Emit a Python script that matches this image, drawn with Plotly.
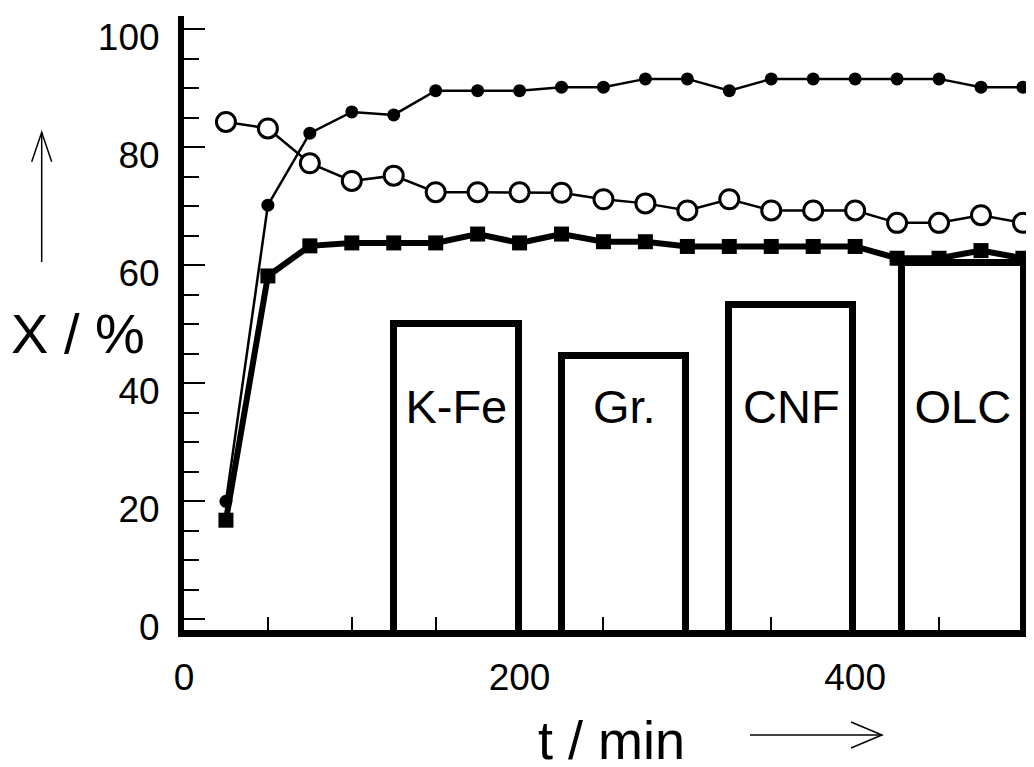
import plotly.graph_objects as go

# ---- data ----
t_min = [25, 50, 75, 100, 125, 150, 175, 200, 225, 250, 275, 300, 325, 350, 375, 400, 425, 450, 475, 500]
conv_filled = [20.0, 70.2, 82.4, 86.0, 85.5, 89.6, 89.6, 89.6, 90.2, 90.2, 91.6, 91.6, 89.6, 91.6, 91.6, 91.6, 91.6, 91.6, 90.2, 90.2]
conv_open = [84.3, 83.2, 77.3, 74.3, 75.2, 72.4, 72.4, 72.4, 72.3, 71.2, 70.5, 69.3, 71.2, 69.3, 69.3, 69.3, 67.2, 67.2, 68.5, 67.2]
conv_square = [16.8, 58.2, 63.3, 63.8, 63.8, 63.8, 65.3, 63.8, 65.3, 64.0, 64.0, 63.2, 63.2, 63.2, 63.2, 63.2, 61.2, 61.2, 62.5, 61.2]

bar_labels = ["K-Fe", "Gr.", "CNF", "OLC"]
bar_centers = [162.3, 262.4, 362.0, 464.2]
bar_widths = [74.2, 73.8, 73.9, 72.7]
bar_tops = [50.1, 44.7, 53.2, 60.4]
bar_label_y = [35.2, 35.2, 35.2, 35.2]

x_tick_vals = [0, 200, 400]
y_tick_vals = [0, 20, 40, 60, 80, 100]

FONT = "Liberation Sans, Arial, sans-serif"

# ---- figure geometry (page body has an 8px margin) ----
OFF = 8
W, H = 1034 - OFF, 767 - OFF
ML, MR, MT, MB = 184 - OFF, 0, 16 - OFF, 137
x_range = [0, 506.6]
y_range = [-1.81, 102.26]
bar_base = -6.0

fig = go.Figure()

fig.add_trace(go.Bar(
    x=bar_centers,
    y=[t - bar_base for t in bar_tops],
    base=bar_base,
    width=bar_widths,
    marker=dict(color="white", line=dict(color="black", width=7)),
    showlegend=False, hoverinfo="skip",
))

fig.add_trace(go.Scatter(
    x=bar_centers, y=bar_label_y, text=bar_labels, mode="text",
    textfont=dict(family=FONT, size=47, color="black"),
    textposition="middle center", showlegend=False, hoverinfo="skip",
))

fig.add_trace(go.Scatter(
    x=t_min, y=conv_square, mode="lines+markers",
    line=dict(color="black", width=6),
    marker=dict(symbol="square", size=15, color="black"),
    showlegend=False,
))

fig.add_trace(go.Scatter(
    x=t_min, y=conv_open, mode="lines+markers",
    line=dict(color="black", width=2.5),
    marker=dict(symbol="circle", size=19, color="white", line=dict(color="black", width=3)),
    showlegend=False,
))

fig.add_trace(go.Scatter(
    x=t_min, y=conv_filled, mode="lines+markers",
    line=dict(color="black", width=2.5),
    marker=dict(symbol="circle", size=13, color="black"),
    showlegend=False,
))

pw = W - ML - MR
ph = H - MT - MB


def px(xp):
    return (xp - OFF - ML) / pw


def py(yp):
    return 1 - (yp - OFF - MT) / ph


shapes = []
# vertical arrow at the y title
shapes.append(dict(type="line", xref="paper", yref="paper", x0=px(41.7), x1=px(41.7), y0=py(262), y1=py(132.5),
                   line=dict(color="black", width=1.5)))
shapes.append(dict(type="path", xref="paper", yref="paper",
                   path=f"M {px(31.7)},{py(161.7)} L {px(41.7)},{py(132.3)} L {px(51.7)},{py(161.7)}",
                   line=dict(color="black", width=1.5)))
# horizontal arrow at the x title
shapes.append(dict(type="line", xref="paper", yref="paper", x0=px(750), x1=px(881.5), y0=py(735), y1=py(735),
                   line=dict(color="black", width=1.5)))
shapes.append(dict(type="path", xref="paper", yref="paper",
                   path=f"M {px(851)},{py(722)} L {px(882)},{py(735)} L {px(851)},{py(748)}",
                   line=dict(color="black", width=1.5)))

annotations = [
    dict(text="X / %", xref="paper", yref="paper", x=px(78), y=py(333), showarrow=False,
         font=dict(family=FONT, size=56, color="black"), xanchor="center", yanchor="middle"),
    dict(text="t / min", xref="paper", yref="paper", x=px(611), y=py(740), showarrow=False,
         font=dict(family=FONT, size=54, color="black"), xanchor="center", yanchor="middle"),
]

fig.update_layout(
    width=W, height=H,
    margin=dict(l=ML, r=MR, t=MT, b=MB, pad=0, autoexpand=False),
    paper_bgcolor="white", plot_bgcolor="white",
    showlegend=False,
    bargap=0,
    shapes=shapes,
    annotations=annotations,
    font=dict(family=FONT, color="black"),
)

fig.update_xaxes(
    range=x_range, showgrid=False, zeroline=False, automargin=False,
    showline=True, linecolor="black", linewidth=7,
    tickmode="array", tickvals=x_tick_vals,
    ticks="inside", ticklen=13, tickwidth=1.5, tickcolor="black",
    tickfont=dict(family=FONT, size=37, color="black"),
    ticklabelstandoff=9,
    minor=dict(dtick=50, tick0=0, ticks="inside", ticklen=13, tickwidth=1.5, tickcolor="black", showgrid=False),
)

fig.update_yaxes(
    range=y_range, showgrid=False, zeroline=False, automargin=False,
    showline=True, linecolor="black", linewidth=6,
    tickmode="array", tickvals=y_tick_vals,
    ticks="inside", ticklen=21, tickwidth=2, tickcolor="black",
    tickfont=dict(family=FONT, size=37, color="black"),
    ticklabelstandoff=11, ticklabelshift=8,
    minor=dict(dtick=5, tick0=0, ticks="inside", ticklen=15, tickwidth=2, tickcolor="black", showgrid=False),
)

fig.write_html("out.html")
